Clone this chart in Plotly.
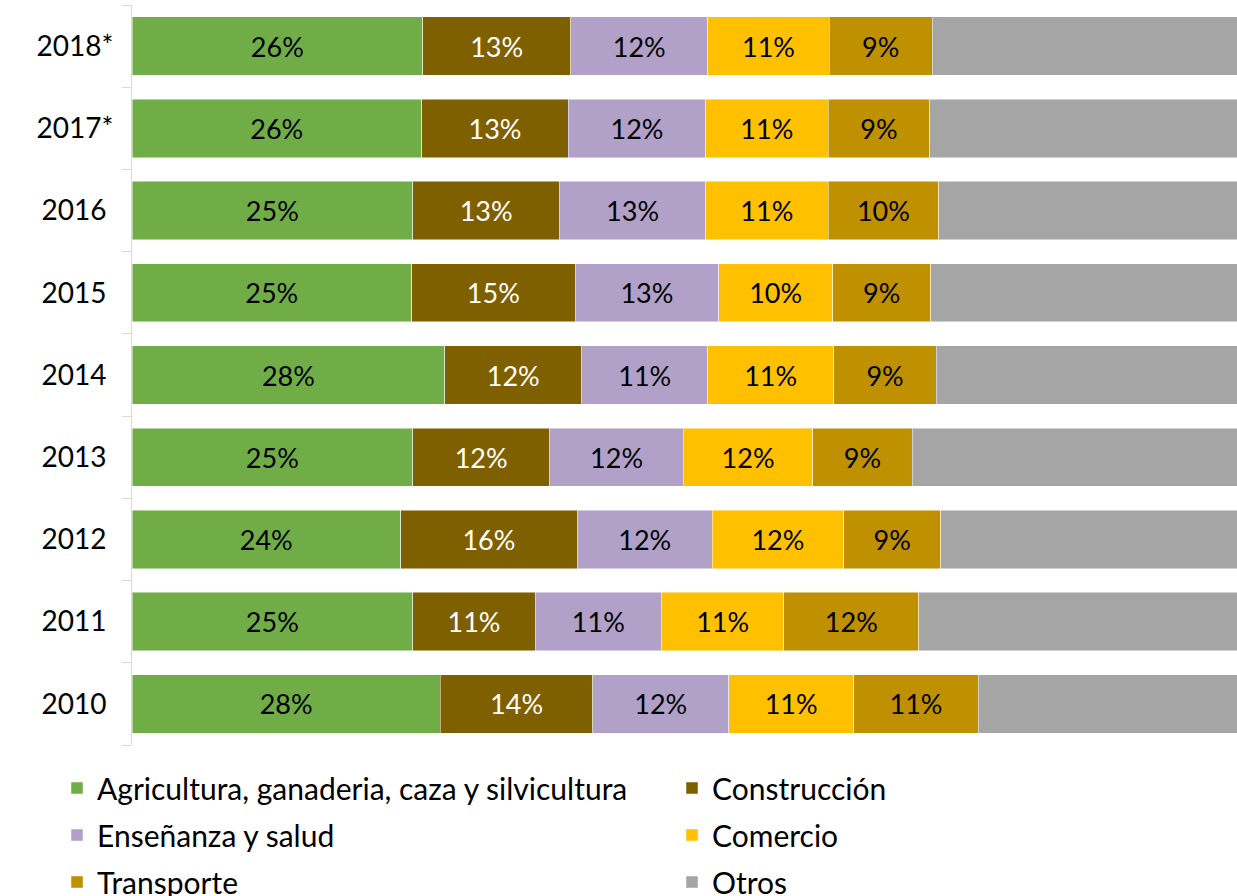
import plotly.graph_objects as go

years = ["2010", "2011", "2012", "2013", "2014", "2015", "2016", "2017*", "2018*"]

agricultura = [27.9, 25.4, 24.3, 25.4, 28.3, 25.3, 25.4, 26.2, 26.3]
construccion = [13.8, 11.1, 16.0, 12.4, 12.4, 14.8, 13.3, 13.3, 13.4]
ensenanza = [12.3, 11.4, 12.2, 12.1, 11.4, 13.0, 13.2, 12.4, 12.4]
comercio = [11.3, 11.1, 11.9, 11.7, 11.4, 10.3, 11.1, 11.1, 11.0]
transporte = [11.3, 12.2, 8.8, 9.0, 9.3, 8.9, 10.0, 9.2, 9.3]
otros = [23.4, 28.8, 26.8, 29.4, 27.2, 27.7, 27.0, 27.8, 27.6]

series = [
    ("Agricultura, ganaderia, caza y silvicultura", agricultura, "#70AD47", "black"),
    ("Construcción", construccion, "#7F6000", "white"),
    ("Enseñanza y salud", ensenanza, "#B1A0C7", "black"),
    ("Comercio", comercio, "#FFC000", "black"),
    ("Transporte", transporte, "#BF9000", "black"),
    ("Otros", otros, "#A5A5A5", "black"),
]

FONT = "Lato"
W, H = 1237, 896

# tick labels look centred in the reference: pad the plain years on the right
tick_text = [y if y.endswith("*") else y + "\u2009\u2009" for y in years]

# legend slots: (x of item start in px, y centre in px)
legend_pos = [(57, 788), (672, 788), (57, 835), (672, 835), (57, 882), (672, 882)]
legend_ids = ["legend", "legend2", "legend3", "legend4", "legend5", "legend6"]

fig = go.Figure()
for i, (name, vals, color, tcolor) in enumerate(series):
    fig.add_trace(go.Bar(
        y=years, x=vals, name=name, orientation="h",
        marker=dict(color=color, line=dict(color="rgba(255,255,255,0.6)", width=0.8)),
        texttemplate="" if name == "Otros" else "%{x:.0f}%",
        textposition="inside", insidetextanchor="middle", textangle=0,
        insidetextfont=dict(family=FONT, size=27, color=tcolor),
        legend=legend_ids[i], hoverinfo="skip",
    ))

legends = {}
for lid, (px, py) in zip(legend_ids, legend_pos):
    legends[lid] = dict(orientation="v", xref="container", yref="container",
                        x=px / W, xanchor="left", y=1 - py / H, yanchor="middle",
                        font=dict(family=FONT, size=30, color="black"),
                        bgcolor="rgba(0,0,0,0)", borderwidth=0)

fig.update_layout(
    width=W, height=H,
    margin=dict(l=132, r=0, t=5, b=151, autoexpand=False),
    barmode="stack", bargap=0.29,
    plot_bgcolor="white", paper_bgcolor="white",
    font=dict(family=FONT, size=28, color="black"),
    xaxis=dict(range=[0, 100], visible=False, fixedrange=True),
    yaxis=dict(type="category", categoryorder="array", categoryarray=years,
               tickmode="array", tickvals=years, ticktext=tick_text,
               tickson="boundaries", ticks="outside", ticklen=9, tickcolor="#D9D9D9",
               showline=True, linecolor="#D9D9D9", linewidth=1, showgrid=False,
               fixedrange=True,
               tickfont=dict(family=FONT, size=28, color="black"), ticklabelstandoff=12),
    showlegend=True,
)
fig.update_layout(**legends)

fig.write_html("out.html", config={"displayModeBar": False},
               post_script="document.body.style.margin='0';document.body.style.overflow='hidden';")
